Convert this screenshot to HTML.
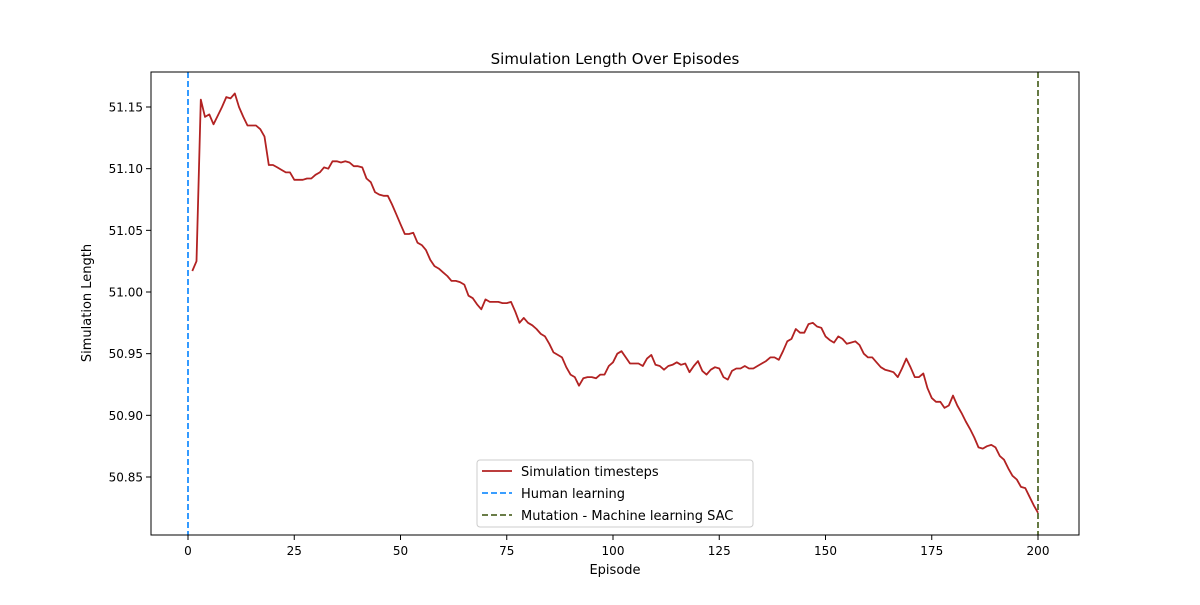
<!DOCTYPE html>
<html><head><meta charset="utf-8"><style>
body{margin:0;background:#fff;font-family:"Liberation Sans","DejaVu Sans",sans-serif}
svg text{font-family:"DejaVu Sans","Liberation Sans",sans-serif;fill:#000}
</style></head><body>
<svg id="chart" width="1200" height="600" xmlns="http://www.w3.org/2000/svg">
<rect width="1200" height="600" fill="#fff"/>
<text x="615" y="64" font-size="15" text-anchor="middle">Simulation Length Over Episodes</text>
<g id="ticks"></g>
<g id="marks"></g>
<rect x="151" y="72" width="928" height="463" fill="none" stroke="#000" stroke-width="1"/>
<text x="615" y="574" font-size="13" text-anchor="middle">Episode</text>
<text x="91" y="303" font-size="13" text-anchor="middle" transform="rotate(-90 91 303)">Simulation Length</text>
<g>
<rect x="477" y="460" width="276" height="67" rx="3" fill="#fff" fill-opacity="0.8" stroke="#ccc"/>
<g><line x1="482" y1="471" x2="512" y2="471" stroke="#b22222" stroke-width="1.8"/><text x="521" y="476" font-size="13">Simulation timesteps</text></g>
<g><line x1="482" y1="493" x2="512" y2="493" stroke="#1e90ff" stroke-width="1.8" stroke-dasharray="6,3"/><text x="521" y="498" font-size="13">Human learning</text></g>
<g><line x1="482" y1="515" x2="512" y2="515" stroke="#556b2f" stroke-width="1.8" stroke-dasharray="6,3"/><text x="521" y="520" font-size="13">Mutation - Machine learning SAC</text></g>
</g>
</svg>
<script>
const xTicks=[0,25,50,75,100,125,150,175,200];
const yTicks=[50.85,50.90,50.95,51.00,51.05,51.10,51.15];
const vlines=[0,200];
const values=[51.017,51.025,51.156,51.142,51.144,51.136,51.143,51.150,51.158,51.157,51.161,51.150,51.142,51.135,51.135,51.135,51.132,51.126,51.103,51.103,51.101,51.099,51.097,51.097,51.091,51.091,51.091,51.092,51.092,51.095,51.097,51.101,51.100,51.106,51.106,51.105,51.106,51.105,51.102,51.102,51.101,51.092,51.089,51.081,51.079,51.078,51.078,51.071,51.063,51.055,51.047,51.047,51.048,51.040,51.038,51.034,51.026,51.021,51.019,51.016,51.013,51.009,51.009,51.008,51.006,50.997,50.995,50.990,50.986,50.994,50.992,50.992,50.992,50.991,50.991,50.992,50.984,50.975,50.979,50.975,50.973,50.970,50.966,50.964,50.958,50.951,50.949,50.947,50.939,50.933,50.931,50.924,50.930,50.931,50.931,50.930,50.933,50.933,50.940,50.943,50.950,50.952,50.947,50.942,50.942,50.942,50.940,50.946,50.949,50.941,50.940,50.937,50.940,50.941,50.943,50.941,50.942,50.935,50.940,50.944,50.936,50.933,50.937,50.939,50.938,50.931,50.929,50.936,50.938,50.938,50.940,50.938,50.938,50.940,50.942,50.944,50.947,50.947,50.945,50.952,50.960,50.962,50.970,50.967,50.967,50.974,50.975,50.972,50.971,50.964,50.961,50.959,50.964,50.962,50.958,50.959,50.960,50.957,50.950,50.947,50.947,50.943,50.939,50.937,50.936,50.935,50.931,50.938,50.946,50.939,50.931,50.931,50.934,50.922,50.914,50.911,50.911,50.906,50.908,50.916,50.908,50.902,50.895,50.889,50.882,50.874,50.873,50.875,50.876,50.874,50.867,50.864,50.857,50.851,50.848,50.842,50.841,50.834,50.827,50.821];
const X=v=>188+(v-0)*4.25;
const Y=v=>292-(v-51.0)*1233.33;
const NS='http://www.w3.org/2000/svg';
const ticks=document.getElementById('ticks'),marks=document.getElementById('marks');
function mk(tag,attrs,parent){const e=document.createElementNS(NS,tag);for(const k in attrs)e.setAttribute(k,attrs[k]);parent.appendChild(e);return e;}
xTicks.forEach(t=>{
 const l=mk('line',{x1:X(t),x2:X(t),y1:535,y2:540,stroke:'#000'},ticks);
 
 
 const tx=mk('text',{x:X(t),y:555,'font-size':12,'text-anchor':'middle'},ticks);tx.textContent=t;
 
 
});
yTicks.forEach(t=>{
 const l=mk('line',{x1:146,x2:151,y1:Y(t),y2:Y(t),stroke:'#000'},ticks);
 
 
 const tx=mk('text',{x:143,y:Y(t)+4.5,'font-size':12,'text-anchor':'end'},ticks);tx.textContent=t.toFixed(2);
 
 
});
const p=values.map((v,i)=>X(i+1).toFixed(1)+','+Y(v).toFixed(1)).join(' ');
const pl=mk('polyline',{points:p,fill:'none',stroke:'#b22222','stroke-width':1.8,'stroke-linejoin':'round'},marks);


const h=mk('line',{x1:X(vlines[0]),x2:X(vlines[0]),y1:72,y2:535,stroke:'#1e90ff','stroke-width':1.8,'stroke-dasharray':'6,3'},marks);


const m=mk('line',{x1:X(vlines[1]),x2:X(vlines[1]),y1:72,y2:535,stroke:'#556b2f','stroke-width':1.8,'stroke-dasharray':'6,3'},marks);


</script>
</body></html>
